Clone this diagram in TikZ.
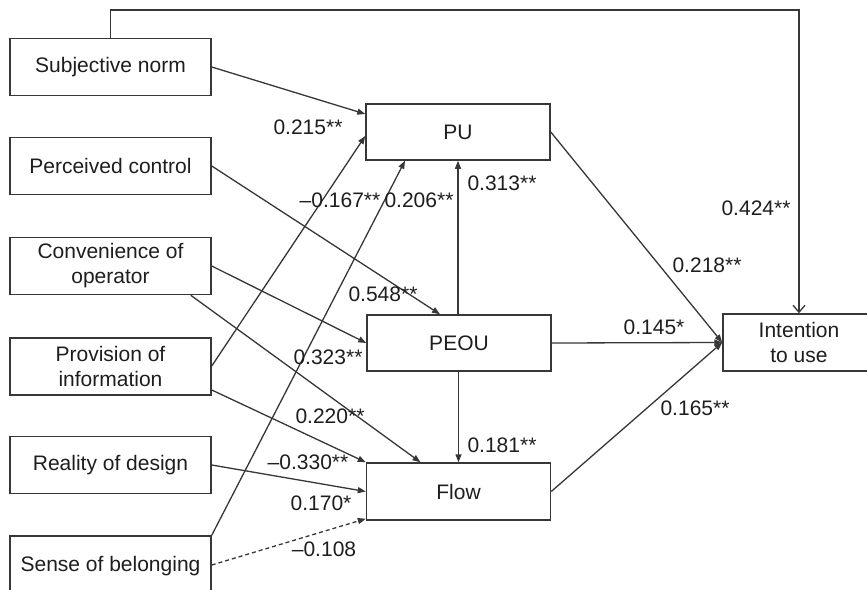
\documentclass[tikz,border=0pt]{standalone}
\usepackage{fontspec}
\setmainfont{Liberation Sans}
\usetikzlibrary{calc,arrows.meta}
\definecolor{ln}{RGB}{55,55,55}
\definecolor{tx}{RGB}{30,30,30}
\begin{document}
\begin{tikzpicture}[x=1pt,y=-1pt,
  box/.style={draw=ln,line width=1.5pt,minimum width=201pt,minimum height=57pt,inner sep=0pt,align=center,text=tx,font=\fontsize{21}{25}\selectfont},
  cbox/.style={box,minimum width=184pt,minimum height=56pt},
  lab/.style={text=tx,font=\fontsize{21}{25}\selectfont,inner sep=0pt},
  arr/.style={draw=ln,line width=1.3pt,-{Triangle[length=8pt,width=6pt]}},
  openarr/.style={draw=ln,line width=1.3pt,-{Straight Barb[length=7pt,width=12pt]}}]
\clip (0,0) rectangle (867,589);
\useasboundingbox (0,0) rectangle (867,589);
\fill[white] (0,0) rectangle (867,589);
% left boxes
\node[box] (sn) at (110.5,67) {Subjective norm};
\node[box] (pc) at (110.5,166) {Perceived control};
\node[box] (co) at (110.5,266) {Convenience of\\operator};
\node[box] (pi) at (110.5,366.5) {Provision of\\information};
\node[box] (rd) at (110.5,465) {Reality of design};
\node[box,minimum height=60pt] (sb) at (110.5,566) {Sense of belonging};
% central
\node[cbox] (pu) at (458,132) {PU};
\node[cbox] (peou) at (459,343) {PEOU};
\node[cbox,minimum height=57pt] (flow) at (458.5,491.5) {Flow};
\node[box,minimum width=152pt] (iu) at (799,342.5) {Intention\\to use};
\coordinate (top) at (798,10);
% connectors
\draw[arr] (sn.east) -- ($(pu.west)+(0,-18)$);
\draw[arr] (pc.east) -- ($(peou.north)+(-19,0)$);
\draw[arr] (co.east) -- (peou.west);
\draw[arr] ($(co.south east)+(-21,0)$) -- ($(flow.north)+(-38,0)$);
\draw[arr] ($(pi.east)+(0,-0.5)$) -- ($(pu.west)+(0,4)$);
\draw[arr] ($(pi.east)+(0,23.5)$) -- (flow.north west);
\draw[arr] (rd.east) -- (flow.west);
\draw[arr] (sb.north east) -- ($(pu.south)+(-53,0)$);
\draw[arr,dash pattern=on 4pt off 3pt] ($(sb.east)+(0,-1)$) -- ($(flow.south west)+(0,-2)$);
\draw[arr] (peou.north -| pu.south) -- (pu.south);
\draw[arr] (peou.south -| flow.north) -- (flow.north);
\draw[arr] (pu.east) -- (iu.west);
\draw[arr] (peou.east) -- (iu.west);
\draw[arr] (flow.east) -- (iu.west);
\draw[openarr] (sn.north) |- (top) -| (iu.north);
% labels
\node[lab] (l1) at (308,127) {0.215**};
\node[lab] (l2) at (340,200) {--0.167**};
\node[lab] (l3) at (419,200) {0.206**};
\node[lab] (l4) at (502,183) {0.313**};
\node[lab] (l5) at (756,208) {0.424**};
\node[lab] (l6) at (707,265) {0.218**};
\node[lab] (l7) at (383,294) {0.548**};
\node[lab] (l8) at (328,357) {0.323**};
\node[lab] (l9) at (330,416) {0.220**};
\node[lab] (l10) at (308,462) {--0.330**};
\node[lab] (l11) at (321,503) {0.170*};
\node[lab] (l12) at (324,549) {--0.108};
\node[lab] (l13) at (654,327) {0.145*};
\node[lab] (l14) at (695,408) {0.165**};
\node[lab] (l15) at (502,445) {0.181**};
\end{tikzpicture}
\end{document}
